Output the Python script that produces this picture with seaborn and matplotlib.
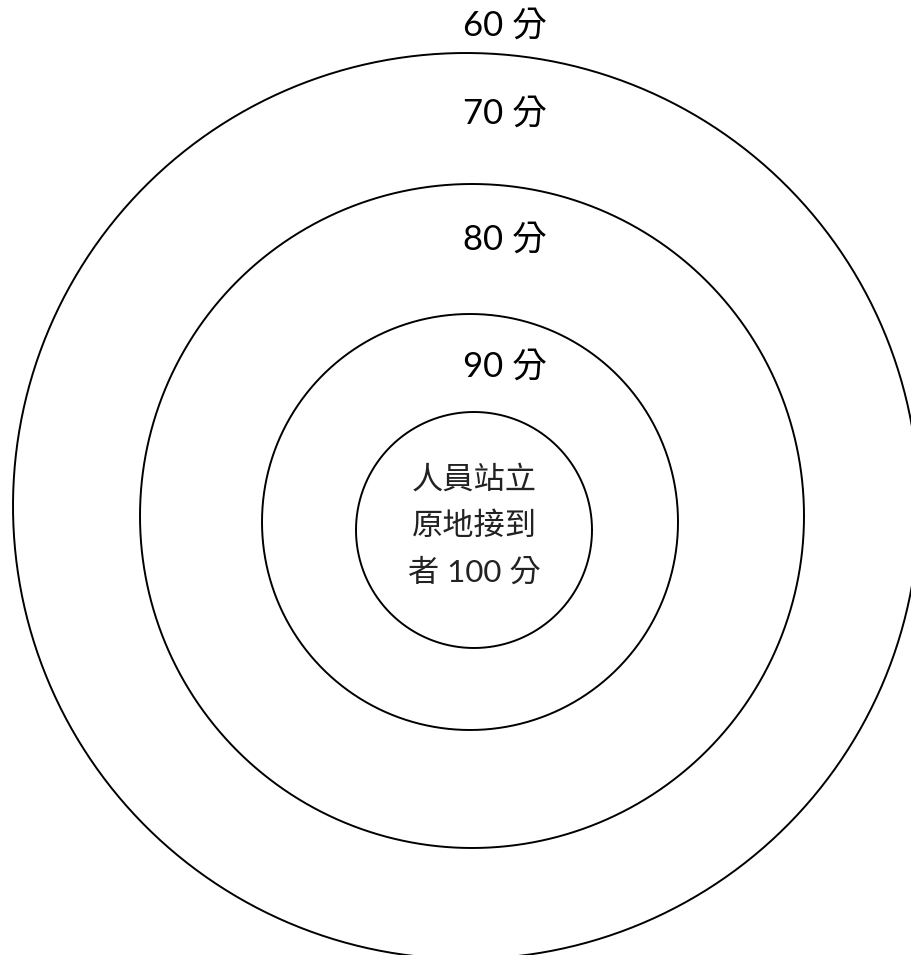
import numpy as np
import pandas as pd
import matplotlib
matplotlib.use("Agg")
import matplotlib.pyplot as plt
import seaborn as sns

# ring geometry (pixel units, y downwards)
ring_names = ["60 分", "70 分", "80 分", "90 分"]
ring_cx = [466, 472, 470, 474]
ring_cy = [506, 516, 522, 530]
ring_r = [453, 332, 208, 118]

# score labels above each ring
label_text = ["60 分", "70 分", "80 分", "90 分"]
label_y = [26, 114, 240, 367]
label_x = 505

# text in the centre ring
centre_lines = ["人員站立", "原地接到", "者 100 分"]
centre_y = [479, 526, 572]
centre_x = 474

sns.set_theme(style="white")
plt.rcParams['font.family'] = ['Lato', 'Noto Sans CJK TC', 'DejaVu Sans']

# build circle outlines
theta = np.linspace(0, 2 * np.pi, 721)
rows = []
for i in range(len(ring_r)):
    xs = ring_cx[i] + ring_r[i] * np.cos(theta)
    ys = ring_cy[i] + ring_r[i] * np.sin(theta)
    rows.append(pd.DataFrame({"x": xs, "y": ys, "ring": i, "order": np.arange(len(theta))}))
df = pd.concat(rows, ignore_index=True)

fig = plt.figure(figsize=(9.11, 9.55), dpi=100)
ax = fig.add_axes([0, 0, 1, 1])

sns.lineplot(data=df, x="x", y="y", hue="ring", units="ring", estimator=None,
             sort=False, palette=["black"] * len(ring_r), linewidth=1.4,
             legend=False, ax=ax)

for txt, y in zip(label_text, label_y):
    ax.text(label_x, y, txt, ha="center", va="center", fontsize=25, color="black")

for txt, y in zip(centre_lines, centre_y):
    ax.text(centre_x, y, txt, ha="center", va="center", fontsize=22.5, color="#222222")

ax.set_xlim(0, 911)
ax.set_ylim(955, 0)
ax.set_aspect("auto")
ax.axis("off")

fig.savefig("out.png", dpi=100, facecolor="white")
